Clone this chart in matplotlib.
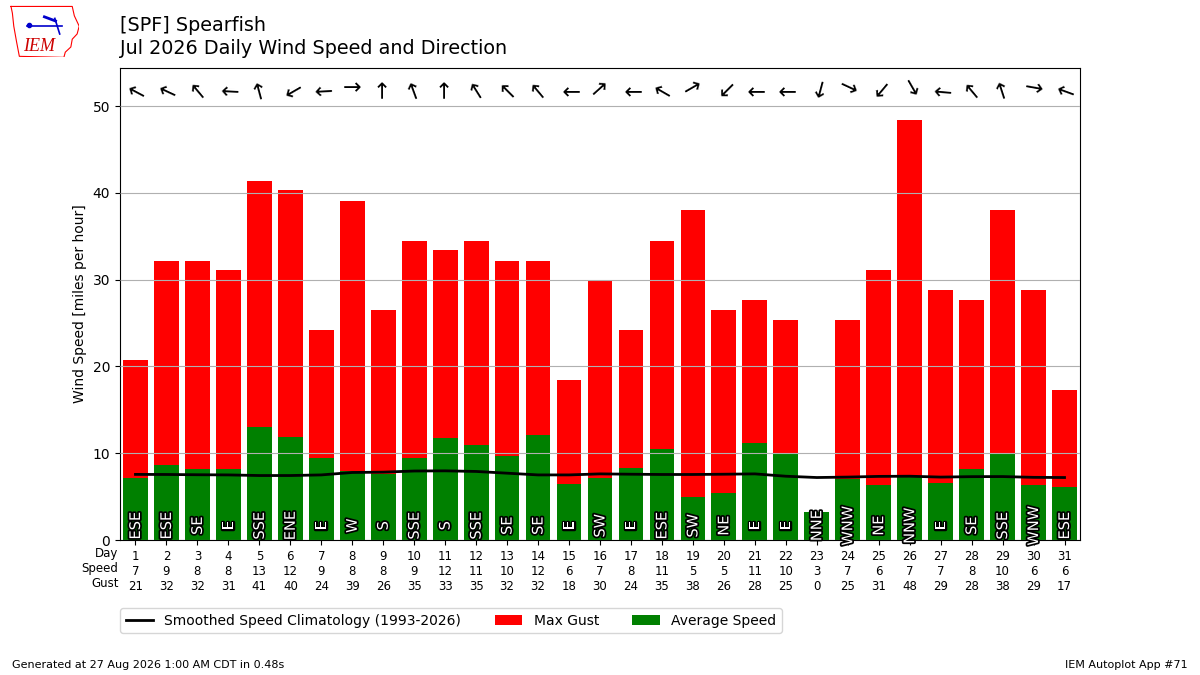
import matplotlib
matplotlib.use("Agg")
import matplotlib.pyplot as plt
import matplotlib.patheffects as PathEffects

# daily values for July 2026 at SPF
days = list(range(1, 32))
speed_lbl = [7, 9, 8, 8, 13, 12, 9, 8, 8, 9, 12, 11, 10, 12, 6,
             7, 8, 11, 5, 5, 11, 10, 3, 7, 6, 7, 7, 8, 10, 6, 6]
gust_lbl = [21, 32, 32, 31, 41, 40, 24, 39, 26, 35, 33, 35, 32, 32, 18,
            30, 24, 35, 38, 26, 28, 25, 0, 25, 31, 48, 29, 28, 38, 29, 17]
avg_speed = [7.1, 8.6, 8.2, 8.2, 13.0, 11.9, 9.5, 8.0, 7.6, 9.5, 11.7, 11.0, 9.7, 12.1, 6.4,
             7.1, 8.3, 10.5, 4.9, 5.4, 11.2, 10.0, 3.2, 7.0, 6.3, 7.3, 6.6, 8.2, 10.0, 6.3, 6.1]
max_gust = [20.7, 32.2, 32.2, 31.1, 41.4, 40.3, 24.2, 39.1, 26.5, 34.5, 33.4, 34.5, 32.2, 32.2, 18.4,
            29.9, 24.2, 34.5, 38.0, 26.5, 27.6, 25.3, 0.0, 25.3, 31.1, 48.4, 28.8, 27.6, 38.0, 28.8, 17.3]
drct_txt = ["ESE", "ESE", "SE", "E", "SSE", "ENE", "E", "W", "S", "SSE", "S", "SSE", "SE", "SE", "E",
            "SW", "E", "ESE", "SW", "NE", "E", "E", "NNE", "WNW", "NE", "NNW", "E", "SE", "SSE", "WNW", "ESE"]
# vector-averaged direction (deg, wind from)
drct_deg = [118, 115, 140, 93, 165, 60, 87, 270, 180, 160, 180, 148, 135, 140, 90,
            228, 90, 120, 240, 45, 90, 90, 15, 295, 40, 330, 95, 140, 162, 280, 110]
climo = [7.56, 7.55, 7.52, 7.50, 7.43, 7.43, 7.50, 7.78, 7.82, 7.95, 7.97, 7.90, 7.70, 7.50, 7.50,
         7.62, 7.58, 7.55, 7.55, 7.58, 7.62, 7.35, 7.20, 7.25, 7.33, 7.35, 7.25, 7.30, 7.31, 7.22, 7.20]

fig = plt.figure(figsize=(12, 6.75), dpi=100)
ax = fig.add_axes([0.1, 0.2, 0.8, 0.7])

ax.plot(days, climo, color="k", lw=2, zorder=3, label="Smoothed Speed Climatology (1993-2026)")
ax.bar(days, max_gust, width=0.8, color="r", label="Max Gust")
ax.bar(days, avg_speed, width=0.8, color="g", label="Average Speed")

ymax = max(max_gust)
for d, txt in zip(days, drct_txt):
    t = ax.text(d, 1.65, txt, rotation=90, ha="center", va="center",
                color="white", fontsize=10.5, zorder=4)
    t.set_path_effects([PathEffects.withStroke(linewidth=2.5, foreground="k")])

for d, deg in zip(days, drct_deg):
    ax.text(d, ymax * 1.075, "\u2192", rotation=-90 - deg, ha="center", va="center",
            rotation_mode="anchor", fontsize=16)

ax.set_xlim(0.5, 31.5)
ax.set_ylim(0, ymax * 1.125)
ax.set_yticks(range(0, 51, 10))
ax.grid(axis="y")
ax.set_axisbelow(False)
ax.set_ylabel("Wind Speed [miles per hour]")
ax.set_xticks(days)
ax.set_xticklabels([f"{d}\n{s}\n{g}" for d, s, g in zip(days, speed_lbl, gust_lbl)], fontsize=8.5)
ax.tick_params(axis="x", pad=3.5)
ax.annotate("Day\nSpeed\nGust", xy=(0, 0), xycoords="axes fraction", xytext=(-1, -5),
            textcoords="offset points", ha="right", va="top", fontsize=8.5, multialignment="right")

ax.legend(ncol=3, loc="upper left", bbox_to_anchor=(0, -0.144), borderaxespad=0,
          fontsize=10, columnspacing=2.4)

fig.text(0.1, 0.977, "[SPF] Spearfish\nJul 2026 Daily Wind Speed and Direction",
         fontsize=13.8, va="top", ha="left", linespacing=1.3)
fig.text(0.01, 0.01, "Generated at 27 Aug 2026 1:00 AM CDT in 0.48s", fontsize=8)
fig.text(0.99, 0.01, "IEM Autoplot App #71", fontsize=8, ha="right")

# rough IEM logo
lax = fig.add_axes([0.008, 0.915, 0.058, 0.077])
lax.set_xlim(0, 1)
lax.set_ylim(0, 1)
lax.axis("off")
ox = [0.02, 0.9, 0.93, 1.0, 0.97, 0.9, 0.88, 0.8, 0.78, 0.14, 0.1, 0.06, 0.04, 0.02]
oy = [0.98, 0.98, 0.8, 0.6, 0.45, 0.35, 0.2, 0.1, 0.0, 0.02, 0.3, 0.6, 0.85, 0.98]
lax.plot(ox, oy, color="r", lw=0.8)
lax.plot([0.25, 0.75], [0.6, 0.6], color="#0000cc", lw=1.2)
lax.plot([0.28], [0.62], "o", color="#0000cc", ms=3)
lax.plot([0.65, 0.72], [0.75, 0.45], color="#0000cc", lw=1.2)
lax.plot([0.5, 0.66], [0.78, 0.7], color="#0000cc", lw=2)
lax.text(0.42, 0.2, "IEM", color="#cc0000", fontsize=13, style="italic",
         family="Liberation Serif", ha="center", va="center")

fig.savefig("out.png", dpi=100)
